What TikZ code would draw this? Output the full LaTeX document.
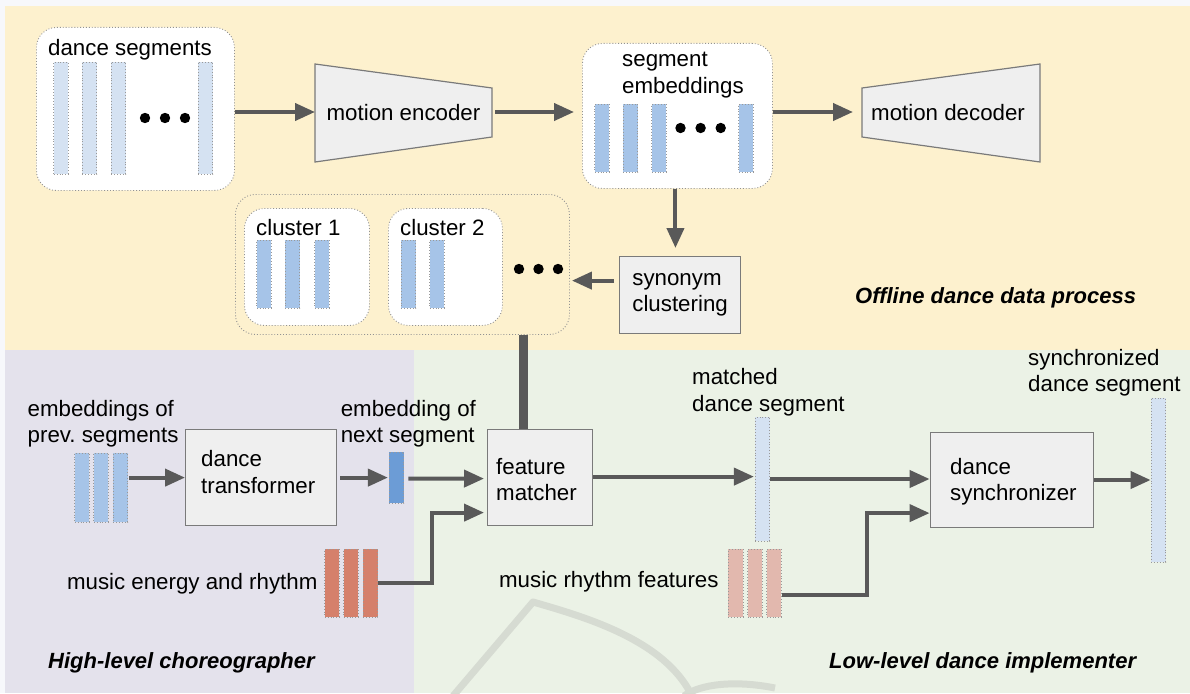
\documentclass[tikz,border=0pt]{standalone}
\usepackage{fontspec}
\setmainfont{Liberation Sans}
\usetikzlibrary{arrows.meta,calc}
\frenchspacing
\definecolor{topw}{HTML}{F7F8FB}
\definecolor{yel}{HTML}{FDF1CE}
\definecolor{purp}{HTML}{E4E2EC}
\definecolor{grn}{HTML}{EBF2E6}
\definecolor{arrg}{HTML}{595959}
\definecolor{boxf}{HTML}{EFEFEF}
\definecolor{boxd}{HTML}{7A7A7A}
\definecolor{barl}{HTML}{D5E2F2}
\definecolor{barm}{HTML}{A6C4E8}
\definecolor{bard}{HTML}{6C9CD6}
\definecolor{sal}{HTML}{D5806B}
\definecolor{sall}{HTML}{E2B8AE}
\definecolor{wm}{HTML}{D6DBD2}
\tikzset{
  txt/.style={font=\fontsize{22.3}{26.5}\selectfont, inner sep=0pt, align=left},
  ttl/.style={font=\fontsize{22}{26}\selectfont\bfseries\itshape, inner sep=0pt, anchor=west},
  arr/.style={draw=arrg, line width=4pt, -{Triangle[length=20pt,width=17pt]}},
  barbase/.style={draw=gray!80, dotted, line width=0.9pt, inner sep=0pt, minimum width=14.5pt},
  barL/.style={barbase, fill=barl},
  barM/.style={barbase, fill=barm},
  barD/.style={barbase, fill=bard},
  barS/.style={barbase, fill=sal},
  barSL/.style={barbase, fill=sall},
  dotbox/.style={draw=gray!85, dotted, line width=0.9pt, rounded corners=20pt, inner sep=0pt, anchor=north west},
  procbox/.style={draw=boxd, fill=boxf, line width=1.2pt, inner sep=0pt, anchor=north west},
  trap/.style={draw=boxd, fill=boxf, line width=1.2pt},
  dotc/.style={fill=black},
  wmark/.style={draw=wm, line width=7pt, line join=round},
}
\begin{document}
\begin{tikzpicture}[x=1pt,y=-1pt]
\useasboundingbox (0,0) rectangle (1190,693);
% backgrounds
\fill[topw] (0,0) rectangle (1190,693);
\fill[yel] (5,6) rectangle (1190,350);
\fill[purp] (5,350) rectangle (414,693);
\fill[grn] (414,350) rectangle (1190,693);
% faint watermark
\draw[wmark] (453,696) -- (533,602) .. controls (585,617) and (665,640) .. (692,696);
\draw[wmark] (684,696) .. controls (700,684) and (735,680) .. (775,688);

% ---------- offline part ----------
\node[dotbox, fill=white, minimum width=198pt, minimum height=163pt] (segs) at (36,27) {};
\node[txt, anchor=west] (segst) at (48,50) {dance segments};
\node[barL, minimum height=112pt] (s1) at (61,118) {};
\node[barL, minimum height=112pt] (s2) at (89.5,118) {};
\node[barL, minimum height=112pt] (s3) at (118.5,118) {};
\node[barL, minimum height=112pt] (s4) at (205.5,118) {};
\fill[dotc] (145,118) circle (5.2pt) (165,118) circle (5.2pt) (185,118) circle (5.2pt);

\draw[trap] (315,64) -- (492,88) -- (492,137) -- (315,162) -- cycle;
\coordinate (encL) at (315,112);
\coordinate (encR) at (492,112);
\node[txt] (enc) at (403.5,113) {motion encoder};

\node[dotbox, fill=white, minimum width=190pt, minimum height=145pt] (emb) at (582,43) {};
\node[txt, anchor=west] (embt) at (622,75) {segment\\embeddings};
\node[barM, minimum height=68pt] (e1) at (602,138) {};
\node[barM, minimum height=68pt] (e2) at (630.5,138) {};
\node[barM, minimum height=68pt] (e3) at (659,138) {};
\node[barM, minimum height=68pt] (e4) at (746,138) {};
\fill[dotc] (680.5,128) circle (5.2pt) (700.6,128) circle (5.2pt) (720.7,128) circle (5.2pt);

\draw[trap] (862,88) -- (1040,64) -- (1040,162) -- (862,137) -- cycle;
\coordinate (decL) at (862,112);
\node[txt, anchor=west] (dec) at (871,113) {motion decoder};

\node[procbox, minimum width=121pt, minimum height=77pt, align=left, font=\fontsize{22.3}{26}\selectfont] (syn) at (619,256) {synonym\\clustering};

\node[dotbox, minimum width=334pt, minimum height=140pt] (clus) at (235,194) {};
\node[dotbox, fill=white, minimum width=125pt, minimum height=117pt] (c1) at (244,208) {};
\node[txt, anchor=west] (c1t) at (256,228) {cluster 1};
\node[barM, minimum height=68pt] (c1a) at (264,274) {};
\node[barM, minimum height=68pt] (c1b) at (292.5,274) {};
\node[barM, minimum height=68pt] (c1c) at (322,274) {};
\node[dotbox, fill=white, minimum width=114pt, minimum height=117pt] (c2) at (388,208) {};
\node[txt, anchor=west] (c2t) at (400,228) {cluster 2};
\node[barM, minimum height=68pt] (c2a) at (408.5,274) {};
\node[barM, minimum height=68pt] (c2b) at (437,274) {};
\fill[dotc] (519,269) circle (5.2pt) (538.5,269) circle (5.2pt) (558,269) circle (5.2pt);

\node[ttl] (offl) at (855,298) {Offline dance data process};

% offline arrows
\draw[arr] (segs.east |- encL) -- (encL);
\draw[arr, shorten <=3pt, shorten >=8pt] (encR) -- (emb.west |- encR);
\draw[arr, shorten >=9pt] (emb.east |- decL) -- (decL);
\draw[arr, shorten >=8pt] ([xshift=-2pt]emb.south) -- ([xshift=-2pt]emb.south |- syn.north);
\draw[arr, shorten <=5pt, shorten >=2pt] ([yshift=14.5pt]syn.west) -- ([yshift=14.5pt]syn.west -| clus.east);

% ---------- high-level part ----------
\node[txt, anchor=west] (prevt) at (27.5,423.5) {embeddings of\\prev. segments};
\node[barM, minimum height=69pt] (p1) at (82,487.5) {};
\node[barM, minimum height=69pt] (p2) at (101,487.5) {};
\node[barM, minimum height=69pt] (p3) at (120.5,487.5) {};

\node[procbox, minimum width=151pt, minimum height=96pt] (dt) at (185,429) {};
\node[txt, anchor=west] (dtt) at (201,472) {dance\\transformer};

\node[txt, anchor=west] (nextt) at (340.6,423.5) {embedding of\\next segment};
\node[barD, minimum height=51pt] (nb) at (396.6,477.5) {};

\node[procbox, minimum width=105pt, minimum height=96pt] (fm) at (487,429) {};
\node[txt, anchor=west] (fmt) at (496,479.5) {feature\\matcher};

\node[barS, minimum height=68pt] (m1) at (332,583) {};
\node[barS, minimum height=68pt] (m2) at (351,583) {};
\node[barS, minimum height=68pt] (m3) at (370.3,583) {};
\node[txt, anchor=east] (met) at (317.6,584) {music energy and rhythm};

\node[ttl] (hl) at (48,663) {High-level choreographer};

\draw[arr, shorten <=1pt] (p3.east |- dt.west) -- (dt.west);
\draw[arr, shorten <=3pt, shorten >=1pt] (dt.east) -- (dt.east -| nb.west);
\draw[arr, shorten <=4pt, shorten >=3pt] ([yshift=-1pt]nb.east) -- ([yshift=-1pt]fm.west);
\draw[arr, shorten >=3pt] (m3.east) -- ++(54,0) |- ([yshift=-35pt]fm.west);
\draw[draw=arrg, line width=9pt] ([xshift=-17pt]fm.north) -- ([xshift=-17pt]fm.north |- clus.south);

% ---------- low-level part ----------
\node[txt, anchor=west] (mbt) at (692,392) {matched\\dance segment};
\node[barL, minimum height=124pt] (mb) at (762.6,479) {};

\node[procbox, minimum width=163.5pt, minimum height=95pt] (ds) at (929.6,432) {};
\node[txt, anchor=west] (dst) at (950,481.5) {dance\\synchronizer};

\node[barSL, minimum height=68pt] (r1) at (735.7,583) {};
\node[barSL, minimum height=68pt] (r2) at (754.8,583) {};
\node[barSL, minimum height=68pt] (r3) at (774,583) {};
\node[txt, anchor=east] (mrt) at (718.7,582) {music rhythm features};

\node[txt, anchor=west] (sbt) at (1028,372.5) {synchronized\\dance segment};
\node[barL, minimum height=164pt] (sb) at (1158.3,480) {};

\node[ttl] (ll) at (829,663) {Low-level dance implementer};

\draw[arr, shorten >=1pt] ([yshift=1pt]fm.east) -- ([yshift=1pt]fm.east -| mb.west);
\draw[arr] (mb.east) -- (mb.east -| ds.west);
\draw[arr] ([yshift=-12pt]r3.east) -- ++(85,0) |- ([yshift=-33pt]ds.west);
\draw[arr] (ds.east |- sb.west) -- (sb.west);
\end{tikzpicture}
\end{document}
